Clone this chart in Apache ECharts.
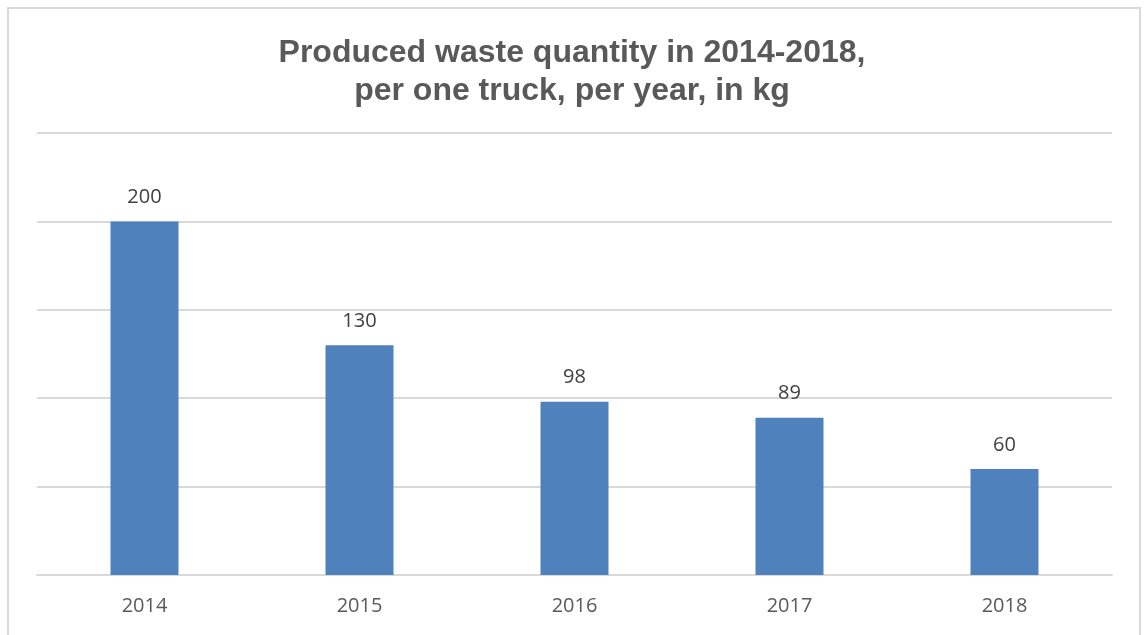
<!DOCTYPE html>
<html><head><meta charset="utf-8">
<script src="https://cdn.jsdelivr.net/npm/echarts@6/dist/echarts.min.js"></script>
<style>
html,body{margin:0;padding:0;background:#fff;}
#frame{position:absolute;left:7px;top:7px;width:1134px;height:640px;border:2px solid #d9d9d9;box-sizing:border-box;}
#c{position:absolute;left:0;top:0;width:1144px;height:635px;}
</style></head>
<body><div id="frame"></div><div id="c"></div>
<script>
const titleText = 'Produced waste quantity in 2014-2018,\nper one truck, per year, in kg';
const categories = ['2014','2015','2016','2017','2018'];
const values = [200, 130, 98, 89, 60];
const chart = echarts.init(document.getElementById('c'));
chart.setOption({
  animation:false,
  backgroundColor:'transparent',
  title:{text:titleText,left:'center',top:29,textStyle:{fontFamily:'Liberation Sans, Arial',fontWeight:'bold',fontSize:32,color:'#595959',lineHeight:38}},
  grid:{left:37,right:32,top:133,bottom:60,containLabel:false},
  xAxis:{type:'category',data:categories,axisLine:{lineStyle:{color:'#d9d9d9',width:2}},axisTick:{show:false},
    axisLabel:{margin:21,fontSize:20,color:'#595959',fontFamily:'Open Sans, Liberation Sans'}},
  yAxis:{type:'value',min:0,max:250,interval:50,axisLabel:{show:false},axisLine:{show:false},axisTick:{show:false},
    splitLine:{lineStyle:{color:'#d9d9d9',width:2}}},
  series:[{type:'bar',data:values,barWidth:68,itemStyle:{color:'#4f81bd'},
    label:{show:true,position:'top',distance:14,fontSize:20,color:'#404040',fontFamily:'Open Sans, Liberation Sans'}}]
});
</script></body></html>
